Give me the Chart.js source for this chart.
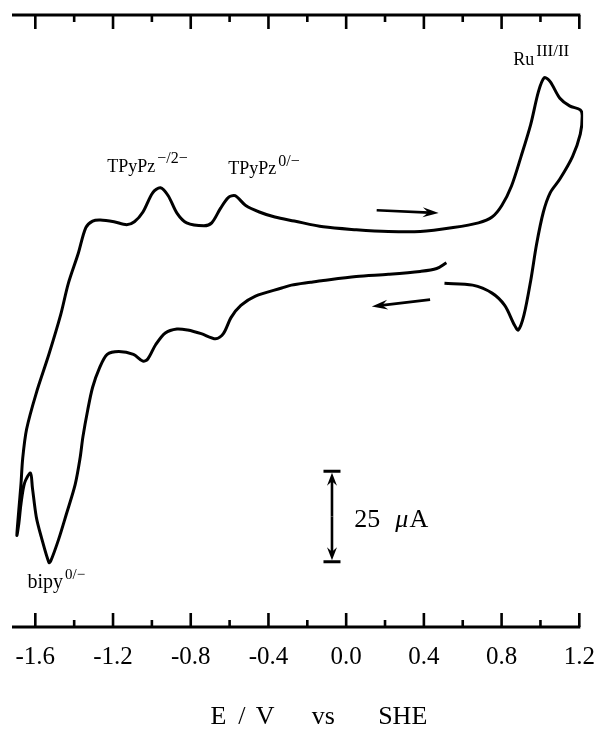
<html lang="en">
<head>
<meta charset="UTF-8">
<title>Cyclic voltammogram</title>
<script src="https://cdn.jsdelivr.net/npm/chart.js"></script>
<style>
  body { margin: 0; background: #fff; }
</style>
</head>
<body>
<canvas id="cv" width="610" height="741"></canvas>
<script>
// potential (V vs SHE) and current (uA), in scan order
const potential = [
  0.516, 0.466, 0.381, 0.217, 0.052, -0.118, -0.183, -0.282, -0.332, -0.467,
  -0.542, -0.592, -0.632, -0.672, -0.746, -0.816, -0.871, -0.931, -0.980, -1.021,
  -1.046, -1.095, -1.170, -1.230, -1.270, -1.305, -1.330, -1.355, -1.370, -1.395,
  -1.440, -1.480, -1.520, -1.530, -1.570, -1.595, -1.615, -1.625, -1.655, -1.674,
  -1.685, -1.695, -1.685, -1.674, -1.665, -1.645, -1.595, -1.530, -1.470, -1.430,
  -1.380, -1.340, -1.305, -1.265, -1.195, -1.130, -1.090, -1.046, -0.996, -0.956,
  -0.916, -0.871, -0.821, -0.732, -0.692, -0.647, -0.607, -0.572, -0.517, -0.447,
  -0.367, -0.267, -0.118, 0.052, 0.217, 0.381, 0.551, 0.681, 0.751, 0.801,
  0.851, 0.900, 0.950, 0.990, 1.020, 1.050, 1.100, 1.150, 1.205, 1.215,
  1.205, 1.165, 1.100, 1.050, 1.015, 0.980, 0.950, 0.915, 0.886, 0.866,
  0.816, 0.751, 0.651, 0.506
];
const current = [
  -2.4, -4.0, -4.8, -5.6, -6.2, -7.3, -7.8, -8.6, -9.4, -11.6,
  -14.2, -17.5, -22.0, -23.4, -22.0, -21.0, -20.7, -21.8, -25.0, -29.0,
  -29.6, -27.7, -26.9, -27.7, -31.5, -36.8, -43.0, -50.5, -56.5, -63.7,
  -71.8, -78.8, -84.7, -85.2, -78.0, -72.6, -64.5, -60.5, -63.2, -69.1,
  -74.5, -77.7, -70.7, -63.7, -56.5, -48.4, -38.4, -27.7, -16.9, -8.1,
  0.0, 7.3, 9.1, 9.4, 8.9, 8.1, 8.9, 11.6, 16.9, 18.3,
  16.1, 11.3, 8.6, 7.8, 8.6, 12.6, 15.6, 16.1, 13.4, 11.6,
  10.2, 9.1, 7.5, 6.7, 6.2, 6.2, 7.3, 8.6, 10.2, 13.4,
  18.8, 26.9, 35.8, 44.9, 48.7, 47.6, 43.0, 40.9, 39.8, 38.2,
  33.1, 26.9, 20.7, 16.9, 11.6, 2.7, -7.3, -16.9, -21.0, -19.6,
  -14.2, -10.8, -8.6, -8.1
];

const tickValues = [-1.6, -1.4, -1.2, -1.0, -0.8, -0.6, -0.4, -0.2, 0.0, 0.2, 0.4, 0.6, 0.8, 1.0, 1.2];
const tickLabels = ['-1.6', '-1.2', '-0.8', '-0.4', '0.0', '0.4', '0.8', '1.2'];

const serif = "'Liberation Serif', 'DejaVu Serif', serif";

// text with a superscript, anchored at a data point (left, baseline)
function supText(ctx, x, y, main, sup, size, supSize, rise) {
  ctx.font = size + 'px ' + serif;
  ctx.textAlign = 'left';
  ctx.textBaseline = 'alphabetic';
  ctx.fillText(main, x, y);
  const w = ctx.measureText(main).width;
  ctx.font = supSize + 'px ' + serif;
  ctx.fillText(sup, x + w + 2, y - rise);
}

function arrow(ctx, x1, y1, x2, y2, len, half) {
  const ang = Math.atan2(y2 - y1, x2 - x1);
  const c = Math.cos(ang), s = Math.sin(ang);
  ctx.beginPath();
  ctx.moveTo(x1, y1);
  ctx.lineTo(x2 - c * len * 0.6, y2 - s * len * 0.6);
  ctx.stroke();
  ctx.beginPath();
  ctx.moveTo(x2, y2);
  ctx.lineTo(x2 - c * len - s * half, y2 - s * len + c * half);
  ctx.lineTo(x2 - c * len * 0.65, y2 - s * len * 0.65);
  ctx.lineTo(x2 - c * len + s * half, y2 - s * len - c * half);
  ctx.closePath();
  ctx.fill();
}

const decorations = {
  id: 'decorations',
  afterDraw(chart) {
    const { ctx, chartArea: a, scales: { x, y } } = chart;
    ctx.save();
    ctx.strokeStyle = '#000';
    ctx.fillStyle = '#000';

    // top and bottom axis lines with inward ticks
    const xEnd = x.getPixelForValue(1.2);
    ctx.lineWidth = 3;
    ctx.beginPath();
    ctx.moveTo(a.left, a.top); ctx.lineTo(xEnd + 1, a.top);
    ctx.moveTo(a.left, a.bottom); ctx.lineTo(xEnd + 1, a.bottom);
    ctx.stroke();
    ctx.lineWidth = 2.6;
    ctx.beginPath();
    tickValues.forEach((v, i) => {
      const px = x.getPixelForValue(v);
      const len = i % 2 === 0 ? 14 : 7;
      ctx.moveTo(px, a.top); ctx.lineTo(px, a.top + len);
      ctx.moveTo(px, a.bottom); ctx.lineTo(px, a.bottom - len);
    });
    ctx.stroke();

    // scan direction arrows
    ctx.lineWidth = 2.6;
    arrow(ctx, x.getPixelForValue(0.157), y.getPixelForValue(12.1),
               x.getPixelForValue(0.476), y.getPixelForValue(11.3), 16, 5);
    arrow(ctx, x.getPixelForValue(0.432), y.getPixelForValue(-12.6),
               x.getPixelForValue(0.132), y.getPixelForValue(-14.5), 16, 5);

    // 25 uA scale bar
    const bx = x.getPixelForValue(-0.073);
    const bTop = y.getPixelForValue(-60), bBot = y.getPixelForValue(-85);
    ctx.lineWidth = 3;
    ctx.beginPath();
    ctx.moveTo(bx - 8.5, bTop); ctx.lineTo(bx + 8.5, bTop);
    ctx.moveTo(bx - 8.5, bBot); ctx.lineTo(bx + 8.5, bBot);
    ctx.stroke();
    ctx.lineWidth = 2.6;
    arrow(ctx, bx, (bTop + bBot) / 2, bx, bTop + 1.5, 13, 5);
    arrow(ctx, bx, (bTop + bBot) / 2, bx, bBot - 1.5, 13, 5);

    ctx.textBaseline = 'alphabetic';
    ctx.textAlign = 'left';
    const lx = x.getPixelForValue(0.042), ly = y.getPixelForValue(-75.3);
    ctx.font = '26px ' + serif;
    ctx.fillText('25', lx, ly);
    const w25 = ctx.measureText('25').width;
    ctx.font = 'italic 26px ' + serif;
    ctx.fillText('\u03bc', lx + w25 + 15, ly);
    const wmu = ctx.measureText('\u03bc').width;
    ctx.font = '26px ' + serif;
    ctx.fillText('A', lx + w25 + 15 + wmu + 1, ly);

    // peak labels
    supText(ctx, x.getPixelForValue(-1.230), y.getPixelForValue(22.6), 'TPyPz', '\u2212/2\u2212', 18, 16, 9);
    supText(ctx, x.getPixelForValue(-0.607), y.getPixelForValue(22.0), 'TPyPz', '0/\u2212', 18, 16, 8);
    supText(ctx, x.getPixelForValue(0.860), y.getPixelForValue(52.2), 'Ru', 'III/II', 18, 17, 9);
    supText(ctx, x.getPixelForValue(-1.640), y.getPixelForValue(-92.2), 'bipy', '0/\u2212', 20, 15, 9);

    // axis title
    ctx.font = '26px ' + serif;
    ctx.textAlign = 'center';
    const ty = a.bottom + 97;
    [['E', -0.657], ['/', -0.537], ['V', -0.417], ['vs', -0.118], ['SHE', 0.291]].forEach(([t, v]) => {
      ctx.fillText(t, x.getPixelForValue(v), ty);
    });
    ctx.restore();
  }
};

Chart.defaults.font.family = serif;
Chart.defaults.color = '#000';

new Chart(document.getElementById('cv').getContext('2d'), {
  type: 'scatter',
  data: {
    datasets: [{
      data: potential.map((e, i) => ({ x: e, y: current[i] })),
      showLine: true,
      borderColor: '#000',
      borderWidth: 3,
      pointRadius: 0,
      tension: 0.3,
      fill: false
    }]
  },
  options: {
    responsive: false,
    animation: false,
    layout: { padding: { left: 12, right: 10, top: 15, bottom: 54 } },
    plugins: { legend: { display: false }, tooltip: { enabled: false } },
    scales: {
      x: {
        type: 'linear',
        min: -1.72,
        max: 1.22,
        afterBuildTicks: (s) => { s.ticks = tickValues.map(v => ({ value: v })); },
        grid: { display: false, drawTicks: false },
        border: { display: false },
        ticks: {
          autoSkip: false,
          maxRotation: 0,
          padding: 15,
          font: { size: 25 },
          callback: (v, i) => (i % 2 === 0 ? tickLabels[i / 2] : '')
        }
      },
      y: {
        display: false,
        min: -103,
        max: 66
      }
    }
  },
  plugins: [decorations]
});
</script>
</body>
</html>
